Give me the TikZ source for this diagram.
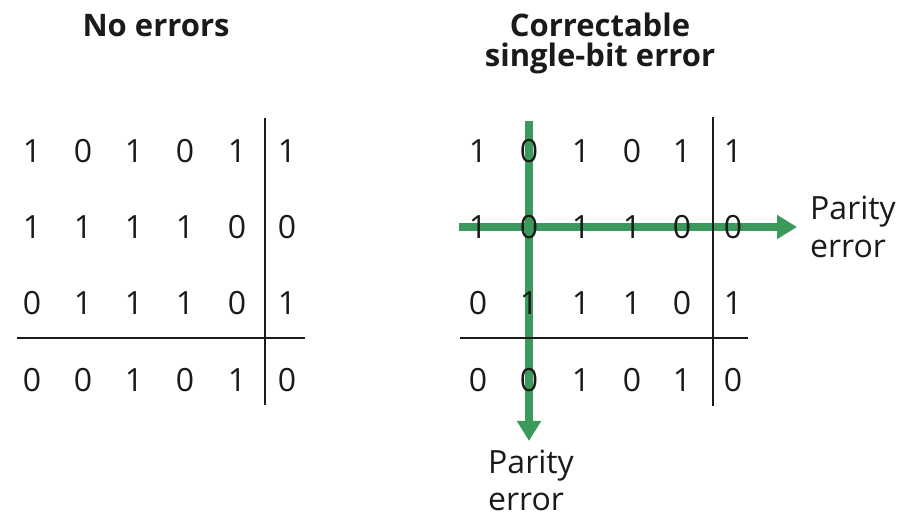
\documentclass[tikz,border=0pt]{standalone}
\usepackage{fontspec}
\setmainfont{Open Sans}
\usetikzlibrary{arrows.meta}
\definecolor{arrowgreen}{RGB}{59,153,91}
\definecolor{ink}{RGB}{26,26,26}
\begin{document}
\begin{tikzpicture}[x=1pt,y=-1pt,
  bit/.style={anchor=base, inner sep=0pt, text=ink, font=\fontsize{32}{38}\selectfont},
  title/.style={anchor=base, inner sep=0pt, align=center, text=ink, font=\fontsize{31}{30}\selectfont\bfseries},
  plabel/.style={anchor=base west, inner sep=0pt, align=left, text=ink, font=\fontsize{32}{38}\selectfont},
  rule/.style={line width=2pt, ink},
  flag/.style={line width=8pt, arrowgreen, -{Triangle[length=20pt,width=23pt]}}
]
\useasboundingbox (0,0) rectangle (916,518);

% titles (base anchor = baseline of the last line)
\node[title] (t1) at (156,37) {No errors};
\node[title] (t2) at (600,67) {Correctable\\single-bit error};

% green parity arrows (drawn below the digits)
\coordinate (vs) at (529,121);
\coordinate (ve) at (529,441);
\coordinate (hs) at (459,227);
\coordinate (he) at (797,227);
\draw[flag] (vs) -- (ve);
\draw[flag] (hs) -- (he);

% left grid rules
\coordinate (lv1) at (265,118);
\coordinate (lv2) at (265,405);
\coordinate (lh1) at (17,338);
\coordinate (lh2) at (305,338);
\draw[rule] (lv1) -- (lv2);
\draw[rule] (lh1) -- (lh2);

% right grid rules
\coordinate (rv1) at (713,117);
\coordinate (rv2) at (713,406);
\coordinate (rh1) at (460,338);
\coordinate (rh2) at (748,338);
\draw[rule] (rv1) -- (rv2);
\draw[rule] (rh1) -- (rh2);

% left digits
\foreach \r/\y/\bits in {1/163/{1,0,1,0,1,1}, 2/239/{1,1,1,1,0,0}, 3/315/{0,1,1,1,0,1}, 4/392/{0,0,1,0,1,0}}{
  \foreach \b [count=\c] in \bits {
    \pgfmathsetmacro{\xx}{{32,83,134,185,237,287}[\c-1]}
    \node[bit] (L\r\c) at (\xx,\y) {\b};
  }
}
% right digits
\foreach \r/\y/\bits in {1/163/{1,0,1,0,1,1}, 2/239/{1,0,1,1,0,0}, 3/315/{0,1,1,1,0,1}, 4/392/{0,0,1,0,1,0}}{
  \foreach \b [count=\c] in \bits {
    \pgfmathsetmacro{\xx}{{478,529,581,632,682,733}[\c-1]}
    \node[bit] (R\r\c) at (\xx,\y) {\b};
  }
}

% labels (base anchor = baseline of the last line)
\node[plabel] (pe1) at (810,258) {Parity\\error};
\node[plabel] (pe2) at (488,511) {Parity\\error};
\end{tikzpicture}
\end{document}
